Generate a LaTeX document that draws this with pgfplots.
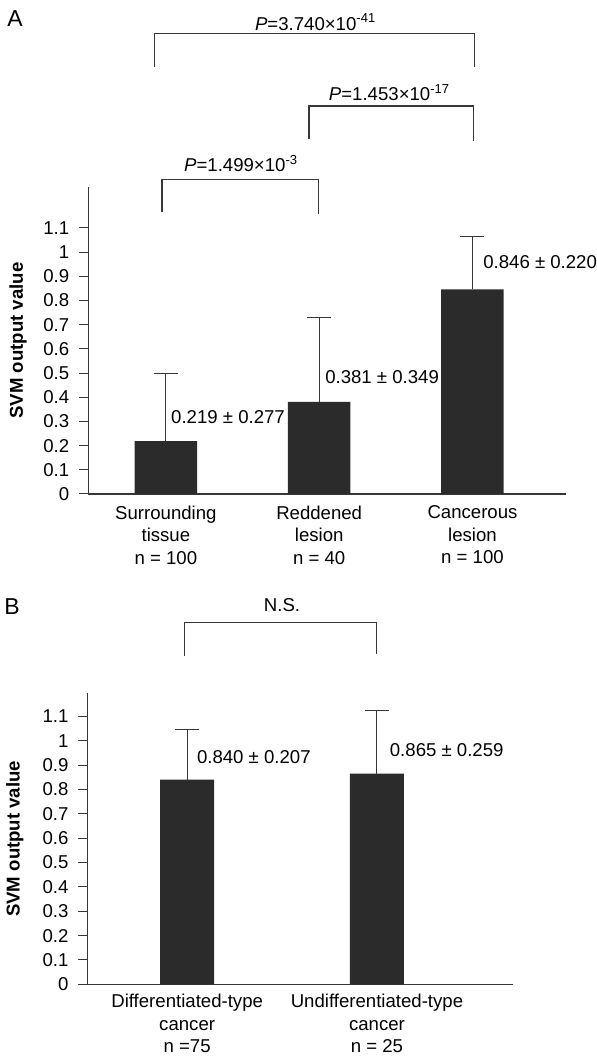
\documentclass[border=0pt]{standalone}
\usepackage{fontspec}
\setmainfont{Liberation Sans}
\usepackage{pgfplots}
\pgfplotsset{compat=1.18}
\definecolor{barc}{RGB}{42,43,42}
\definecolor{linec}{RGB}{55,55,55}
\newcommand{\fs}{\fontsize{9.3}{11}\selectfont}
\newcommand{\fsl}{\fontsize{9.3}{11.3}\selectfont}
\begin{document}
\begin{tikzpicture}
\path[use as bounding box] (0,0) rectangle (298.5pt,528pt);
\pgfplotsset{
  myax/.style={
    scale only axis, axis lines*=left, ymin=0, ybar,
    ytick={0,0.1,0.2,0.3,0.4,0.5,0.6,0.7,0.8,0.9,1,1.1},
    yticklabels={0,0.1,0.2,0.3,0.4,0.5,0.6,0.7,0.8,0.9,1,1.1},
    tick align=outside, major tick length=4.5pt,
    xtick style={draw=none},
    ytick style={linec, line width=0.5pt},
    tick label style={font=\fs},
    yticklabel style={xshift=-1.5pt},
    /pgf/number format/assume math mode=true,
    axis line style={-, linec, line width=0.6pt},
    xticklabel style={align=center, font=\fsl, yshift=2.2pt},
    clip=false,
  }
}
% Panel A
\begin{axis}[myax,
  at={(44.15pt,281pt)}, anchor=south west,
  width=238.7pt, height=153.35pt,
  xmin=-0.506, xmax=2.608, ymax=1.2674,
  xtick={0,1,2},
  xticklabels={Surrounding\\tissue\\n = 100, Reddened\\lesion\\n = 40, Cancerous\\lesion\\n = 100},
  ylabel={SVM output value},
  ylabel style={font=\fs\bfseries, at={(axis description cs:-0.147,0.5)}, anchor=center, rotate=0},
]
\addplot[fill=barc, draw=none, bar width=31.25pt,
  error bars/.cd, y dir=plus, y explicit,
  error bar style={linec, line width=0.5pt},
  error mark options={linec, line width=0.5pt, mark size=6pt, rotate=90}]
  coordinates {(0,0.219) +- (0,0.277) (1,0.381) +- (0,0.349) (2,0.846) +- (0,0.220)};
\node[font=\fs, anchor=west, inner sep=0pt] at (axis cs:0.032,0.319) {0.219 ± 0.277};
\node[font=\fs, anchor=west, inner sep=0pt] at (axis cs:1.037,0.483) {0.381 ± 0.349};
\node[font=\fs, anchor=west, inner sep=0pt] at (axis cs:2.068,0.959) {0.846 ± 0.220};
\draw[linec, line width=0.6pt] (axis cs:-0.074,1.766) -- (axis cs:-0.074,1.904) -- (axis cs:2.014,1.904) -- (axis cs:2.014,1.766);
\draw[linec, line width=0.6pt] (axis cs:0.933,1.469) -- (axis cs:0.933,1.603) -- (axis cs:2.008,1.603) -- (axis cs:2.008,1.460);
\draw[linec, line width=0.6pt] (axis cs:-0.025,1.164) -- (axis cs:-0.025,1.298) -- (axis cs:0.997,1.298) -- (axis cs:0.997,1.157);
\node[font=\fs] at (axis cs:0.977,1.951) {{\itshape P}=3.740×10\textsuperscript{-41}};
\node[font=\fs] at (axis cs:1.459,1.658) {{\itshape P}=1.453×10\textsuperscript{-17}};
\node[font=\fs] at (axis cs:0.491,1.366) {{\itshape P}=1.499×10\textsuperscript{-3}};
\end{axis}
% Panel B
\begin{axis}[myax,
  at={(43.75pt,35.85pt)}, anchor=south west,
  width=212.75pt, height=145.5pt,
  xmin=-0.525, xmax=1.7166, ymax=1.195,
  xtick={0,1},
  xticklabels={Differentiated-type\\cancer\\n =75, Undifferentiated-type\\cancer\\n = 25},
  xticklabel style={yshift=1pt},
  ylabel={SVM output value},
  ylabel style={font=\fs\bfseries, at={(axis description cs:-0.171,0.5)}, anchor=center, rotate=0},
]
\addplot[fill=barc, draw=none, bar width=27pt,
  error bars/.cd, y dir=plus, y explicit,
  error bar style={linec, line width=0.5pt},
  error mark options={linec, line width=0.5pt, mark size=6pt, rotate=90}]
  coordinates {(0,0.840) +- (0,0.207) (1,0.865) +- (0,0.259)};
\node[font=\fs, anchor=west, inner sep=0pt] at (axis cs:0.05,0.935) {0.840 ± 0.207};
\node[font=\fs, anchor=west, inner sep=0pt] at (axis cs:1.066,0.962) {0.865 ± 0.259};
\draw[linec, line width=0.6pt] (axis cs:-0.014,1.349) -- (axis cs:-0.014,1.487) -- (axis cs:0.998,1.487) -- (axis cs:0.998,1.355);
\node[font=\fs] at (axis cs:0.5,1.558) {N.S.};
\end{axis}
\node[font=\fontsize{11.5}{13}\selectfont] at (7.5pt,518.85pt) {A};
\node[font=\fontsize{11.5}{13}\selectfont] at (6pt,224.65pt) {B};
\end{tikzpicture}
\end{document}
